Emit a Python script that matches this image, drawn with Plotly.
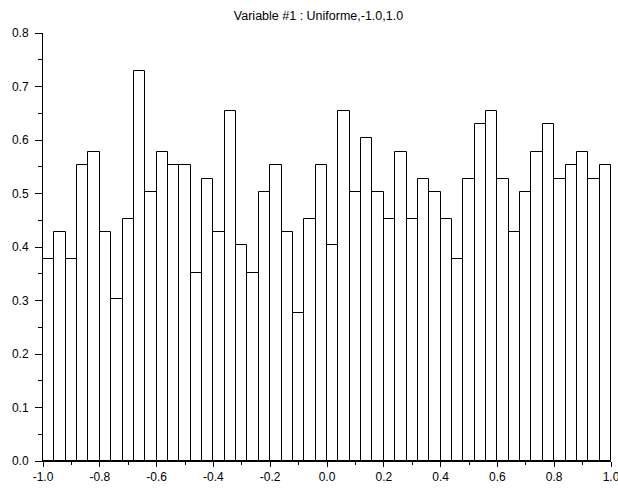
import plotly.graph_objects as go

bin_left = [round(-1.0 + 0.04 * i, 2) for i in range(50)]
values = [0.377, 0.428, 0.377, 0.553, 0.578, 0.428, 0.302, 0.453, 0.729, 0.503,
          0.578, 0.553, 0.553, 0.352, 0.528, 0.428, 0.654, 0.403, 0.352, 0.503,
          0.553, 0.428, 0.277, 0.453, 0.553, 0.403, 0.654, 0.503, 0.604, 0.503,
          0.453, 0.578, 0.453, 0.528, 0.503, 0.453, 0.377, 0.528, 0.629, 0.654,
          0.528, 0.428, 0.503, 0.578, 0.629, 0.528, 0.553, 0.578, 0.528, 0.553]
bin_width = 0.04
x_ticks = [-1.0, -0.8, -0.6, -0.4, -0.2, 0.0, 0.2, 0.4, 0.6, 0.8, 1.0]
y_ticks = [0.0, 0.1, 0.2, 0.3, 0.4, 0.5, 0.6, 0.7, 0.8]
title = "Variable #1 : Uniforme,-1.0,1.0"

fig = go.Figure(go.Bar(
    x=[b + bin_width / 2 for b in bin_left],
    y=values,
    width=bin_width,
    marker=dict(color="white", line=dict(color="black", width=1)),
    hoverinfo="skip",
    cliponaxis=False,
))

font = dict(family="Liberation Sans, Arial, sans-serif", color="black")

fig.update_layout(
    width=618, height=488,
    margin=dict(l=43, r=7, t=33, b=27, autoexpand=False),
    paper_bgcolor="white", plot_bgcolor="white",
    showlegend=False,
    bargap=0,
    title=dict(text=title, x=(234 + 403) / 2 / 618, xanchor="center",
               y=1 - 15.5 / 488, yanchor="middle", yref="container",
               font=dict(size=12.5, **font)),
    font=dict(size=12, **font),
)
fig.update_xaxes(
    range=[-1.0, 1.0], tickvals=x_ticks, ticktext=[f"{v:.1f}" for v in x_ticks],
    ticks="outside", ticklen=5, tickwidth=1, tickcolor="black",
    minor=dict(dtick=0.1, tick0=-1.0, ticks="outside", ticklen=3, tickcolor="black", tickwidth=1),
    showline=True, linecolor="black", linewidth=1, showgrid=False, zeroline=False,
    tickfont=dict(size=12, **font), automargin=False, ticklabeloverflow="allow",
)
fig.update_yaxes(
    range=[0.0, 0.8], tickvals=y_ticks, ticktext=[f"{v:.1f}" for v in y_ticks],
    ticks="outside", ticklen=7, tickwidth=1, tickcolor="black",
    minor=dict(dtick=0.05, tick0=0.0, ticks="outside", ticklen=4, tickcolor="black", tickwidth=1),
    showline=True, linecolor="black", linewidth=1, showgrid=False, zeroline=False,
    tickfont=dict(size=12, **font), automargin=False, ticklabeloverflow="allow",
    ticklabelstandoff=4,
)

fig.write_html("out.html", config={"displayModeBar": False},
               post_script="document.body.style.margin='0';document.body.style.padding='0';")
